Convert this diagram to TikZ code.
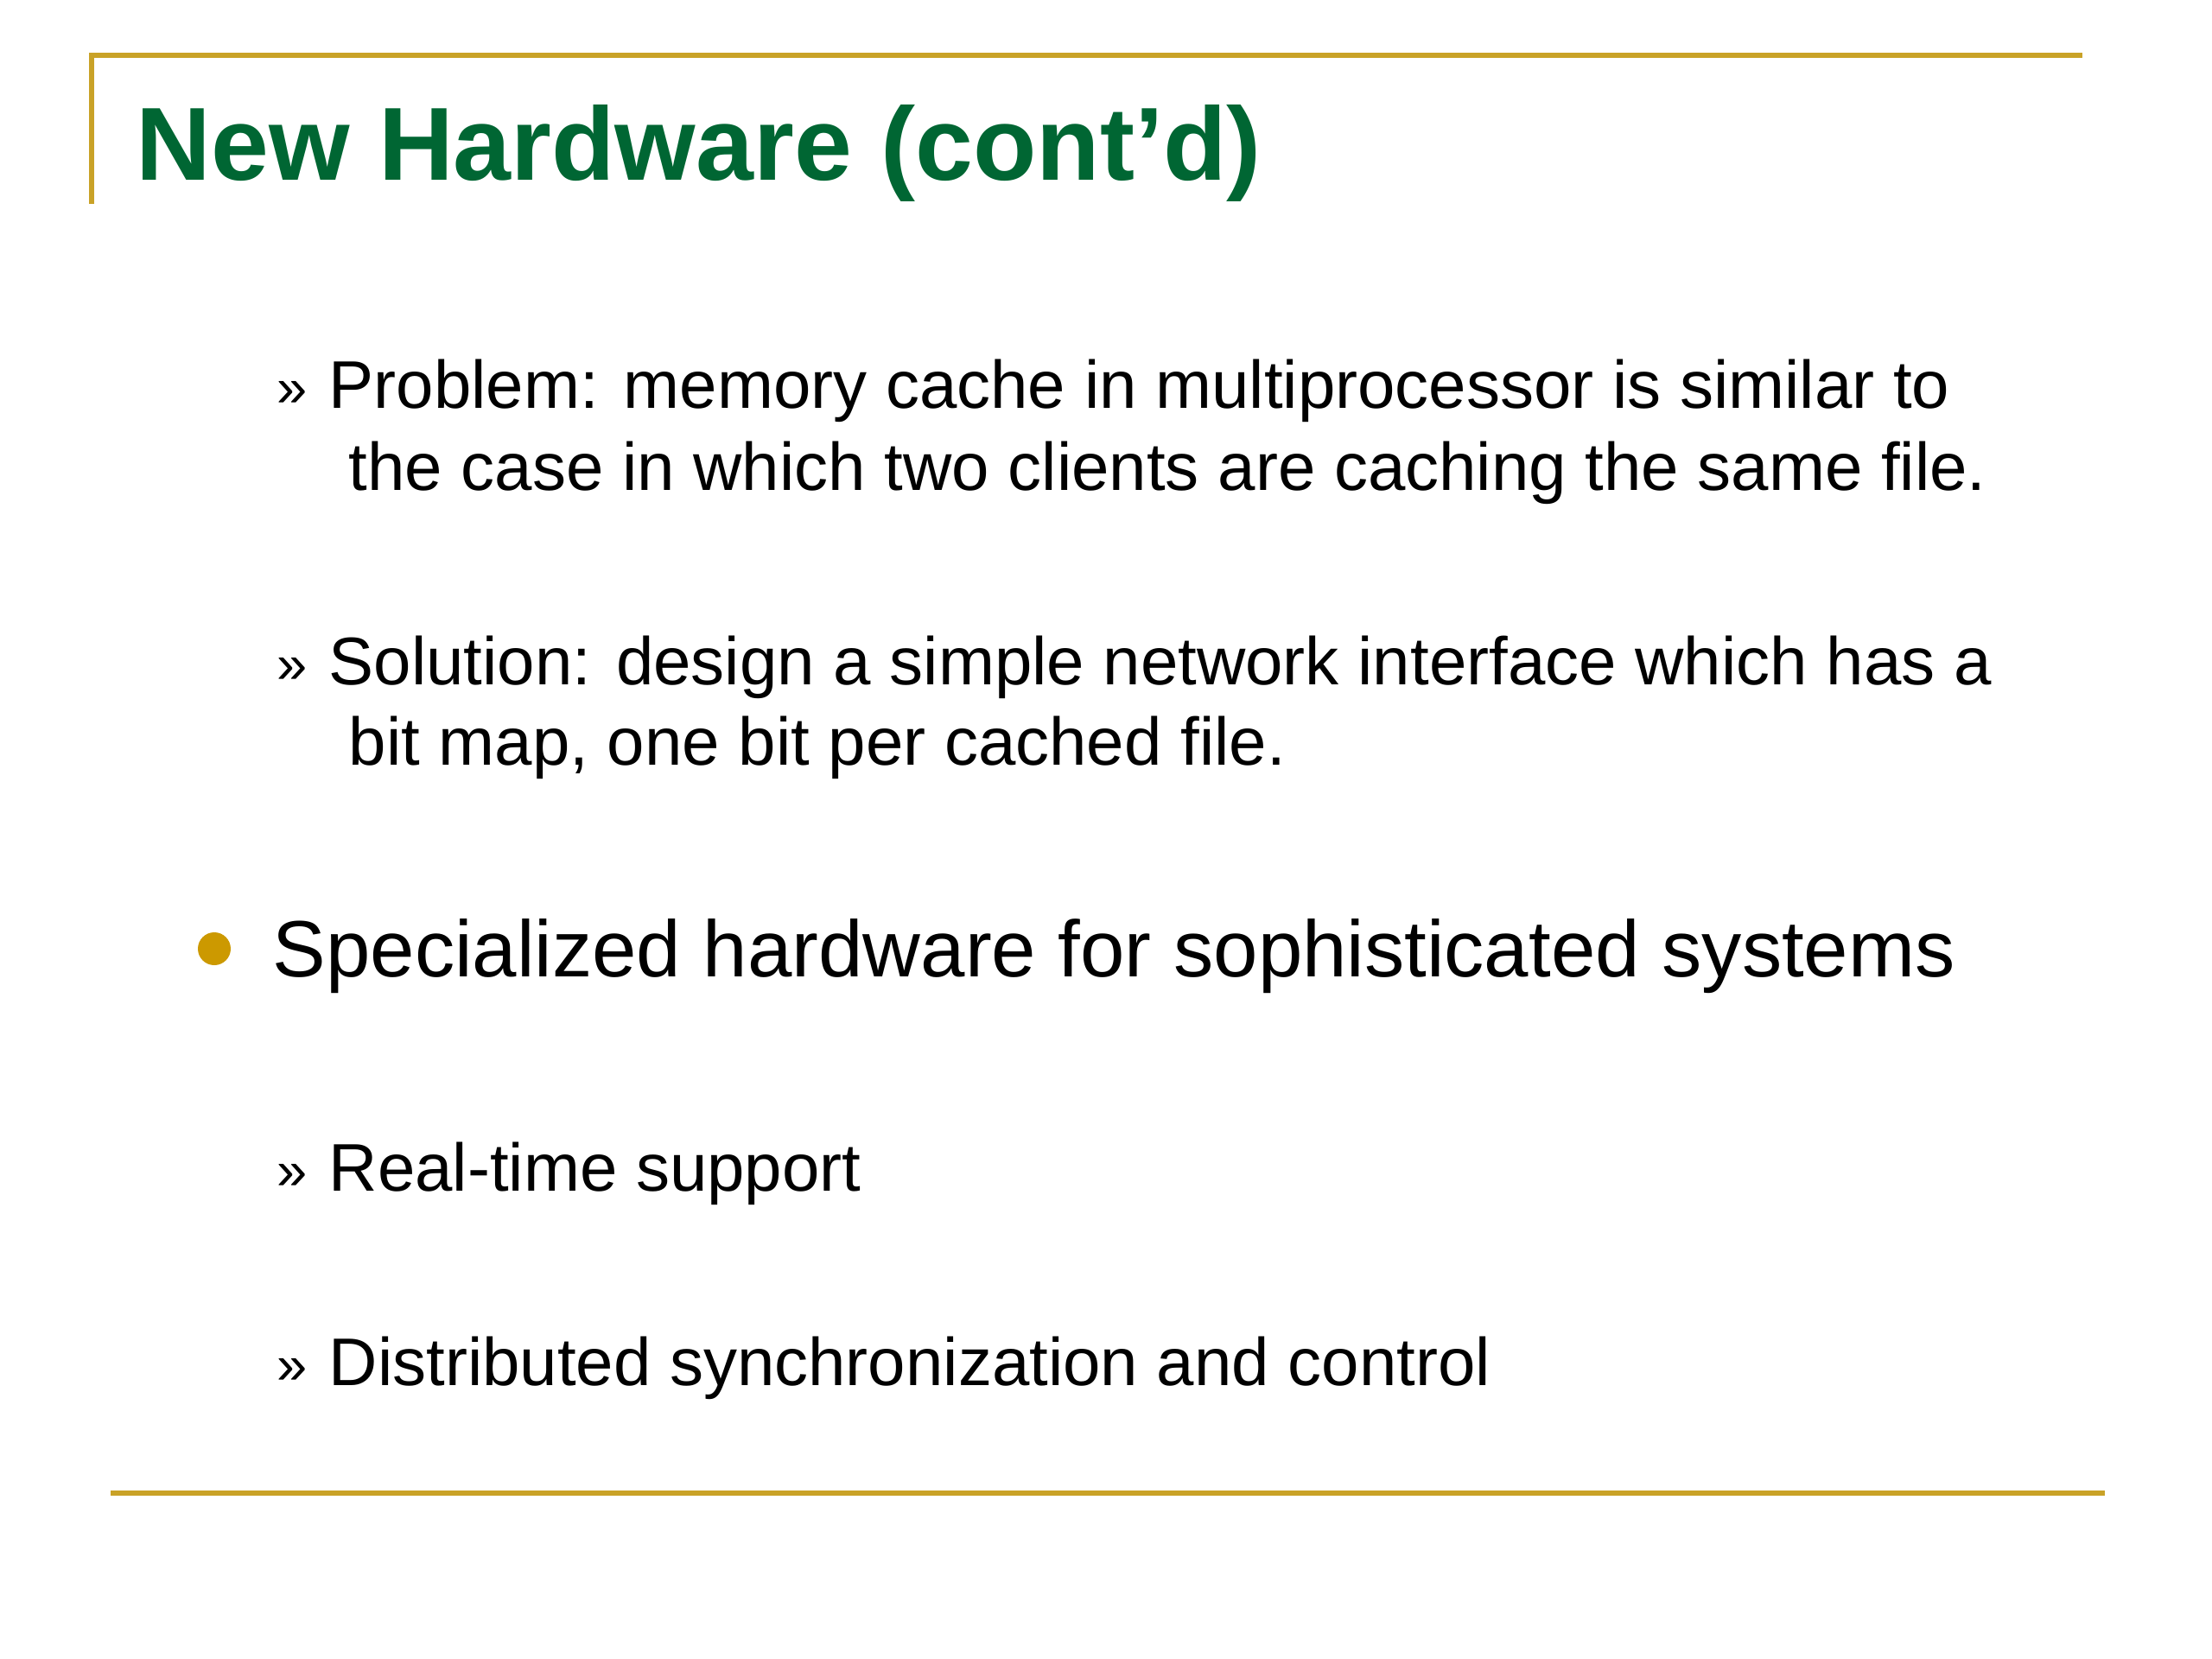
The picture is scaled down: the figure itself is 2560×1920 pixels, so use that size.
\documentclass[tikz,border=0pt]{standalone}
\usepackage{fontspec}
\setmainfont{Liberation Sans}
\definecolor{rulegold}{HTML}{C9A227}
\definecolor{bulletgold}{HTML}{CC9900}
\definecolor{titlegreen}{HTML}{006633}
\begin{document}
\begin{tikzpicture}[x=0.1mm,y=-0.1mm,
  rule/.style={draw=rulegold,line width=0.6mm},
  titletxt/.style={anchor=base west,inner sep=0pt,text=titlegreen,font=\fontsize{34.2}{40}\selectfont\bfseries},
  subtxt/.style={anchor=base west,inner sep=0pt,font=\fontsize{22.2}{26}\selectfont},
  guil/.style={anchor=base west,inner sep=0pt,font=\fontsize{18}{22}\selectfont},
  mainttxt/.style={anchor=base west,inner sep=0pt,font=\fontsize{26.3}{31}\selectfont},
  dotbullet/.style={circle,fill=bulletgold,inner sep=0pt,minimum size=3.8mm}]
\useasboundingbox (0,0) rectangle (2560,1920);
% frame rules
\coordinate (tlA) at (106,236);
\coordinate (tlB) at (106,64);
\coordinate (tlC) at (2410,64);
\draw[rule] (tlA) -- (tlB) -- (tlC);
\coordinate (blA) at (128,1728);
\coordinate (blB) at (2436,1728);
\draw[rule] (blA) -- (blB);
% title
\node[titletxt] (title) at (157,208) {New Hardware (cont’d)};
% sub-bullets
\node[guil] (g1) at (320,470) {»};
\node[subtxt] (p1) at (380,472) {Problem: memory cache in multiprocessor is similar to};
\node[subtxt] (p2) at (403,567) {the case in which two clients are caching the same file.};
\node[guil] (g2) at (320,790) {»};
\node[subtxt] (s1) at (380,792) {Solution: design a simple network interface which has a};
\node[subtxt] (s2) at (403,885) {bit map, one bit per cached file.};
% main bullet
\node[dotbullet] (b3) at (248,1098) {};
\node[mainttxt] (m3) at (315,1130) {Specialized hardware for sophisticated systems};
\node[guil] (g4) at (320,1376) {»};
\node[subtxt] (r4) at (380,1378) {Real-time support};
\node[guil] (g5) at (320,1601) {»};
\node[subtxt] (d5) at (380,1603) {Distributed synchronization and control};
\end{tikzpicture}
\end{document}
